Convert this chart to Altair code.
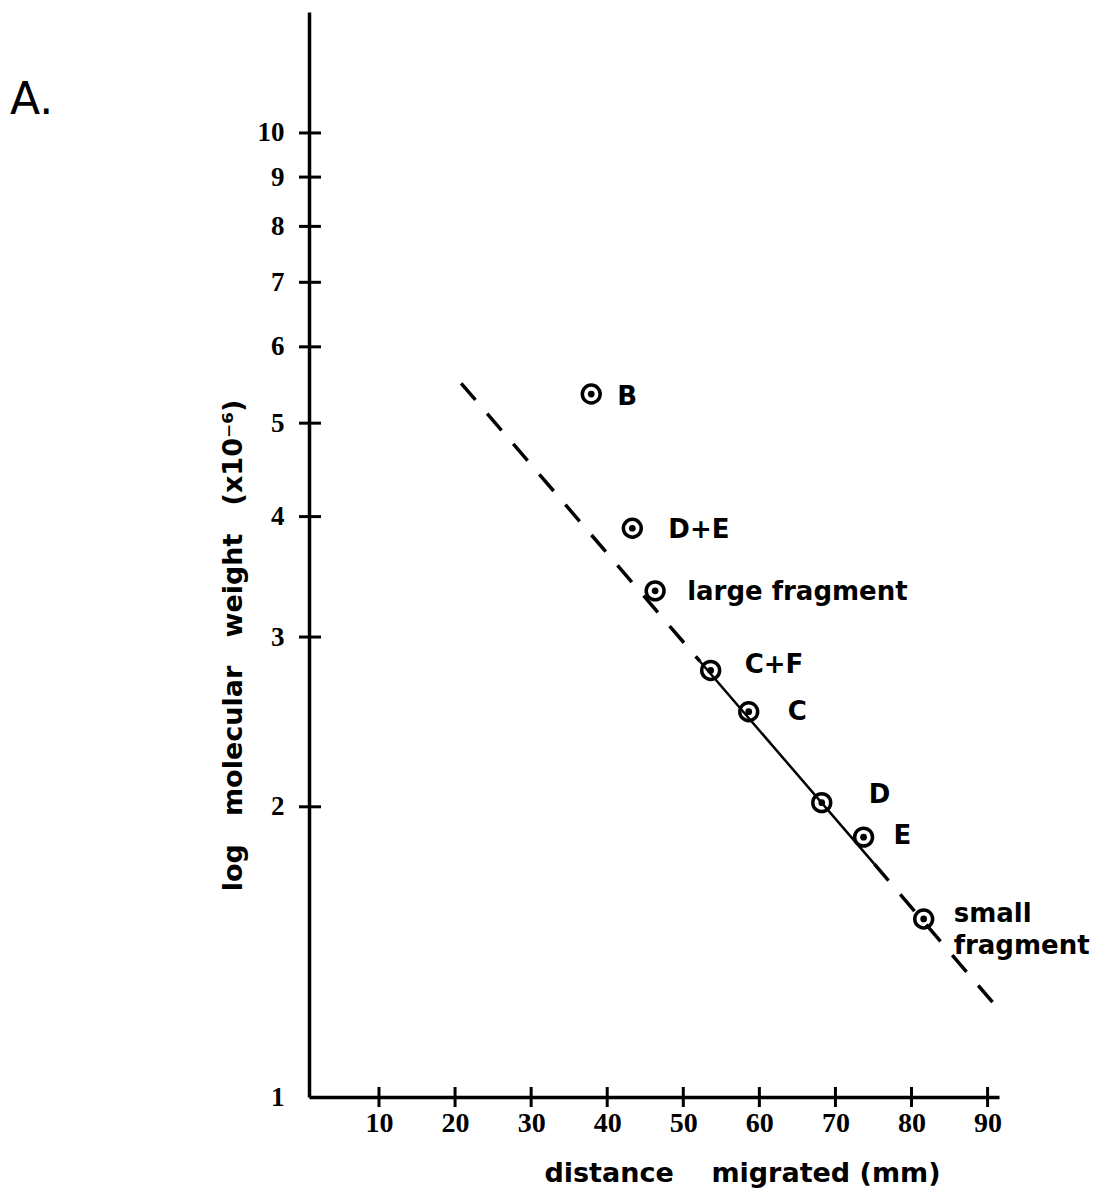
import altair as alt
import pandas as pd

# ---- data ----
labels = ["B", "D+E", "large fragment", "C+F", "C", "D", "E", "small\nfragment"]
distance = [37.9, 43.3, 46.3, 53.6, 58.6, 68.2, 73.7, 81.6]
mol_weight = [5.36, 3.89, 3.35, 2.77, 2.51, 2.02, 1.86, 1.53]

fit_segment = ["dash_upper", "dash_upper", "solid", "solid", "dash_lower", "dash_lower"]
fit_distance = [20.8, 52.2, 52.2, 75.1, 75.1, 90.8]
fit_weight = [5.50, 2.83, 2.83, 1.745, 1.745, 1.25]

x_tick_values = [10, 20, 30, 40, 50, 60, 70, 80, 90]
y_tick_marks = [2, 3, 4, 5, 6, 7, 8, 9, 10]
y_tick_labels = [1, 2, 3, 4, 5, 6, 7, 8, 9, 10]

# ---- styling ----
W, H = 690, 1085
X_DOMAIN = [0.8, 91.5]
Y_DOMAIN = [1, 13.35]
label_offsets = {
    "B": (26, 11), "D+E": (36, 10), "large fragment": (32, 9), "C+F": (34, 3),
    "C": (39, 8), "D": (47, 0), "E": (30, 7), "small\nfragment": (30, 3),
}
LABEL_FONT = "DejaVu Sans"
NUM_FONT = "Liberation Serif"

pts = pd.DataFrame({"label": labels, "distance": distance, "mol_weight": mol_weight})
fit = pd.DataFrame({"segment": fit_segment, "distance": fit_distance, "mol_weight": fit_weight})
xt = pd.DataFrame({"distance": x_tick_values})
yt = pd.DataFrame({"mol_weight": y_tick_marks})

xscale = alt.Scale(domain=X_DOMAIN, nice=False, zero=False)
yscale = alt.Scale(type="log", domain=Y_DOMAIN, nice=False)

x_axis = alt.Axis(
    values=x_tick_values, format="d", ticks=False, tickSize=0, grid=False,
    domainColor="black", domainWidth=3.5, domainOpacity=1,
    labelFont=NUM_FONT, labelFontWeight="bold", labelFontSize=28, labelColor="black",
    labelPadding=12,
    title="distance\u00a0\u00a0\u00a0\u00a0migrated\u00a0(mm)", titleFont=LABEL_FONT,
    titleFontWeight="bold", titleFontSize=27, titleColor="black",
    titleX=433, titleY=76, titleAlign="center", titleBaseline="middle")
y_axis = alt.Axis(
    values=y_tick_labels, format="d", ticks=False, tickSize=0, grid=False,
    domainColor="black", domainWidth=3.5, domainOpacity=1,
    labelFont=NUM_FONT, labelFontWeight="bold", labelFontSize=27, labelColor="black",
    labelPadding=25,
    title="log\u00a0\u00a0\u00a0molecular\u00a0\u00a0\u00a0weight\u00a0\u00a0\u00a0(x10\u207b\u2076)",
    titleFont=LABEL_FONT, titleFontWeight="bold", titleFontSize=27, titleColor="black",
    titleAngle=270, titleX=-76, titleY=633, titleAlign="center", titleBaseline="middle")

x_enc = alt.X("distance:Q", scale=xscale, axis=x_axis)
y_enc = alt.Y("mol_weight:Q", scale=yscale, axis=y_axis)

layers = []

# fitted line
layers.append(alt.Chart(fit).transform_filter(alt.datum.segment != "solid").mark_line(
    color="black", strokeWidth=3.5, strokeDash=[22, 18], strokeCap="butt").encode(
    x=x_enc, y=y_enc, detail="segment:N"))
layers.append(alt.Chart(fit).transform_filter(alt.datum.segment == "solid").mark_line(
    color="black", strokeWidth=2.5).encode(x=x_enc, y=y_enc, detail="segment:N"))

# axis tick marks crossing the axes
layers.append(alt.Chart(xt).mark_tick(color="black", size=20, thickness=3, opacity=1).encode(
    x=x_enc, y=alt.value(H)))
layers.append(alt.Chart(yt).mark_tick(color="black", size=22, thickness=3, opacity=1).encode(
    y=y_enc, x=alt.value(1)))

# points: open circle + center dot
layers.append(alt.Chart(pts).mark_point(shape="circle", size=320, filled=False,
    color="black", strokeWidth=3.5, opacity=1).encode(x=x_enc, y=y_enc))
layers.append(alt.Chart(pts).mark_point(shape="circle", size=45, filled=True,
    color="black", opacity=1).encode(x=x_enc, y=y_enc))

# labels
for lab in labels:
    dx, dy = label_offsets[lab]
    layers.append(alt.Chart(pts).transform_filter(alt.datum.label == lab).mark_text(
        align="left", baseline="alphabetic", dx=dx, dy=dy, font=LABEL_FONT,
        fontWeight="bold", fontSize=26, color="black", lineBreak="\n",
        lineHeight=32).encode(x=x_enc, y=y_enc, text="label:N"))

# panel letter
layers.append(alt.Chart(pd.DataFrame({"t": ["A."]})).mark_text(
    align="left", baseline="alphabetic", font=LABEL_FONT, fontSize=44,
    color="black").encode(x=alt.value(10 - 309), y=alt.value(114 - 12), text="t:N"))

chart = alt.layer(*layers).properties(
    width=W, height=H,
    autosize=alt.AutoSizeParams(type="none"),
    padding={"left": 309, "top": 12, "right": 101, "bottom": 101},
    background="white",
).configure_view(stroke=None)

chart.save("out.html", embed_options={"renderer": "svg", "actions": False})
